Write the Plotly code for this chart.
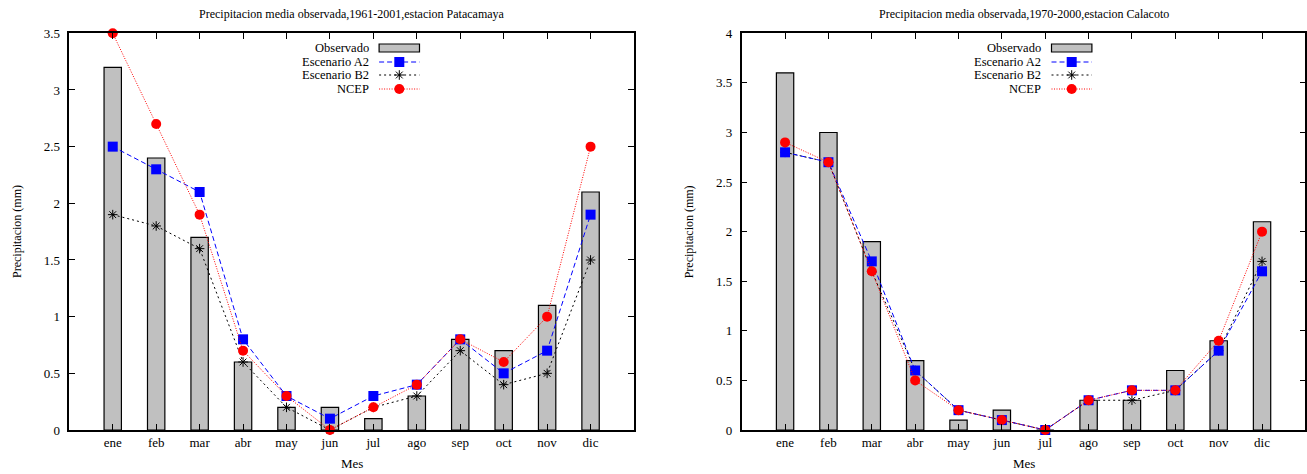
import plotly.graph_objects as go

meses = ["ene", "feb", "mar", "abr", "may", "jun", "jul", "ago", "sep", "oct", "nov", "dic"]

# Patacamaya 1961-2001
pat_obs = [3.2, 2.4, 1.7, 0.6, 0.2, 0.2, 0.1, 0.3, 0.8, 0.7, 1.1, 2.1]
pat_a2 = [2.5, 2.3, 2.1, 0.8, 0.3, 0.1, 0.3, 0.4, 0.8, 0.5, 0.7, 1.9]
pat_b2 = [1.9, 1.8, 1.6, 0.6, 0.2, 0.0, 0.2, 0.3, 0.7, 0.4, 0.5, 1.5]
pat_ncep = [3.5, 2.7, 1.9, 0.7, 0.3, 0.0, 0.2, 0.4, 0.8, 0.6, 1.0, 2.5]

# Calacoto 1970-2000
cal_obs = [3.6, 3.0, 1.9, 0.7, 0.1, 0.2, 0.0, 0.3, 0.3, 0.6, 0.9, 2.1]
cal_a2 = [2.8, 2.7, 1.7, 0.6, 0.2, 0.1, 0.0, 0.3, 0.4, 0.4, 0.8, 1.6]
cal_b2 = [2.8, 2.7, 1.6, 0.6, 0.2, 0.1, 0.0, 0.3, 0.3, 0.4, 0.8, 1.7]
cal_ncep = [2.9, 2.7, 1.6, 0.5, 0.2, 0.1, 0.0, 0.3, 0.4, 0.4, 0.9, 2.0]

titles = ["Precipitacion media observada,1961-2001,estacion Patacamaya",
          "Precipitacion media observada,1970-2000,estacion Calacoto"]
series_names = ["Observado", "Escenario A2", "Escenario B2", "NCEP"]

W, H = 1307, 474
FONT = "Liberation Serif"
GRAY = "#c0c0c0"

left_px = [(69.3, 634.0), (741.7, 1305.4)]
top_px, bot_px = 33.3, 430.0
yranges = [[0, 3.5], [0, 4]]

fig = go.Figure()

datasets = [(pat_obs, pat_a2, pat_b2, pat_ncep), (cal_obs, cal_a2, cal_b2, cal_ncep)]
x_idx = list(range(len(meses)))

A2_LINE = dict(color="#0000ff", width=1, dash="5px,3px")
B2_LINE = dict(color="black", width=1, dash="2px,3px")
NC_LINE = dict(color="#ff0000", width=1, dash="1px,1.5px")
A2_MK = dict(symbol="square", size=10, color="#0000ff")
B2_MK = dict(symbol="asterisk-open", size=8, color="black", line=dict(color="black", width=1))
NC_MK = dict(symbol="circle", size=10, color="#ff0000")

for i, (obs, a2, b2, ncep) in enumerate(datasets):
    xa = "x" if i == 0 else "x2"
    ya = "y" if i == 0 else "y2"
    fig.add_trace(go.Bar(x=x_idx, y=obs, width=0.4, marker=dict(color=GRAY, line=dict(color="black", width=1.2)),
                         xaxis=xa, yaxis=ya, showlegend=False, name=series_names[0]))
    fig.add_trace(go.Scatter(x=x_idx, y=b2, mode="lines+markers", xaxis=xa, yaxis=ya, showlegend=False,
                             name=series_names[2], cliponaxis=False, line=B2_LINE, marker=B2_MK))
    fig.add_trace(go.Scatter(x=x_idx, y=a2, mode="lines+markers", xaxis=xa, yaxis=ya, showlegend=False,
                             name=series_names[1], cliponaxis=False, line=A2_LINE, marker=A2_MK))
    fig.add_trace(go.Scatter(x=x_idx, y=ncep, mode="lines+markers", xaxis=xa, yaxis=ya, showlegend=False,
                             name=series_names[3], cliponaxis=False, line=NC_LINE, marker=NC_MK))

# Legend samples drawn on a pixel overlay axis
annotations = []
shapes = []
rows_y = [48, 62, 75, 89]
for i in range(2):
    x0f = left_px[i][0]
    txt_r = x0f + 301.4
    s0, s1 = x0f + 309.8, x0f + 350.2
    sm = (s0 + s1) / 2
    for name, ry in zip(series_names, rows_y):
        annotations.append(dict(x=txt_r, y=ry, xref="x3", yref="y3", text=name, showarrow=False,
                                xanchor="right", yanchor="middle", font=dict(family=FONT, size=12.5, color="black")))
    shapes.append(dict(type="rect", xref="x3", yref="y3", x0=s0, x1=s1, y0=rows_y[0] - 4, y1=rows_y[0] + 4,
                       fillcolor=GRAY, line=dict(color="black", width=1.2)))
    for ry, ln, mk in [(rows_y[1], A2_LINE, A2_MK), (rows_y[2], B2_LINE, B2_MK), (rows_y[3], NC_LINE, NC_MK)]:
        fig.add_trace(go.Scatter(x=[s0, sm, s1], y=[ry] * 3, mode="lines", xaxis="x3", yaxis="y3",
                                 showlegend=False, hoverinfo="skip", line=ln))
        fig.add_trace(go.Scatter(x=[sm], y=[ry], mode="markers", xaxis="x3", yaxis="y3",
                                 showlegend=False, hoverinfo="skip", marker=mk))

    cx = (left_px[i][0] + left_px[i][1]) / 2
    annotations.append(dict(x=cx, y=14, xref="x3", yref="y3", text=titles[i], showarrow=False,
                            xanchor="center", yanchor="middle", font=dict(family=FONT, size=12, color="black")))
    annotations.append(dict(x=cx, y=463, xref="x3", yref="y3", text="Mes", showarrow=False,
                            xanchor="center", yanchor="middle", font=dict(family=FONT, size=13, color="black")))
    annotations.append(dict(x=left_px[i][0] - 53, y=(top_px + bot_px) / 2, xref="x3", yref="y3",
                            text="Precipitacion (mm)", showarrow=False, textangle=-90,
                            xanchor="center", yanchor="middle", font=dict(family=FONT, size=12, color="black")))

def xdom(i):
    return [left_px[i][0] / W, left_px[i][1] / W]

ydom = [1 - bot_px / H, 1 - top_px / H]

axis_common = dict(showgrid=False, zeroline=False, showline=True, linecolor="black", linewidth=1.5,
                   mirror="allticks", ticks="inside", ticklen=6, tickwidth=1.2, tickcolor="black",
                   automargin=False, tickfont=dict(family=FONT, size=13, color="black"))

fig.update_layout(
    template="none",
    width=W, height=H,
    margin=dict(l=0, r=0, t=0, b=0, pad=0, autoexpand=False),
    paper_bgcolor="white", plot_bgcolor="rgba(0,0,0,0)",
    barmode="overlay",
    xaxis=dict(domain=xdom(0), range=[-1, 12], tickvals=x_idx, ticktext=meses, anchor="y", **axis_common),
    yaxis=dict(domain=ydom, range=yranges[0], dtick=0.5, anchor="x", ticklabelstandoff=5, **axis_common),
    xaxis2=dict(domain=xdom(1), range=[-1, 12], tickvals=x_idx, ticktext=meses, anchor="y2", **axis_common),
    yaxis2=dict(domain=ydom, range=yranges[1], dtick=0.5, anchor="x2", ticklabelstandoff=5, **axis_common),
    xaxis3=dict(domain=[0, 1], range=[0, W], visible=False, fixedrange=True, anchor="y3", automargin=False),
    yaxis3=dict(domain=[0, 1], range=[H, 0], visible=False, fixedrange=True, anchor="x3", automargin=False),
    annotations=annotations,
    shapes=shapes,
    showlegend=False,
)

fig.write_html("out.html", config={"displayModeBar": False},
               post_script="document.body.style.margin='0';document.body.style.overflow='hidden';")
